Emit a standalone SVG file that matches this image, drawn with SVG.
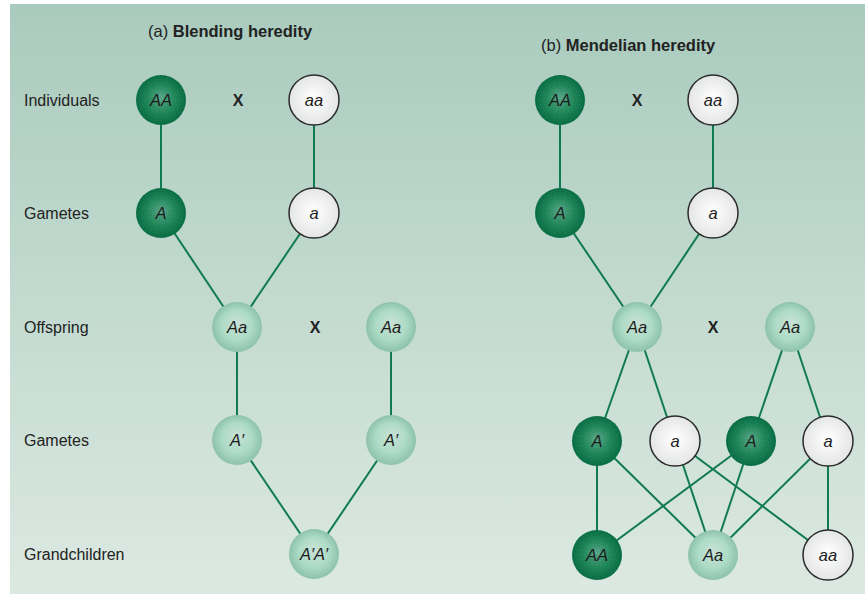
<svg xmlns="http://www.w3.org/2000/svg" width="865" height="594" viewBox="0 0 865 594">
  <defs>
    <linearGradient id="bg" x1="0" y1="0" x2="0" y2="1">
      <stop offset="0" stop-color="#a9cbbd"/>
      <stop offset="1" stop-color="#dce9e2"/>
    </linearGradient>
    <radialGradient id="dark" cx="50%" cy="50%" r="50%" fx="50%" fy="45%">
      <stop offset="0" stop-color="#5fb293"/>
      <stop offset="0.55" stop-color="#23905f"/>
      <stop offset="1" stop-color="#0a7449"/>
    </radialGradient>
    <radialGradient id="light" cx="50%" cy="50%" r="50%" fx="50%" fy="40%">
      <stop offset="0" stop-color="#c8e2d6"/>
      <stop offset="0.6" stop-color="#addbc6"/>
      <stop offset="1" stop-color="#8dc2ab"/>
    </radialGradient>
    <radialGradient id="white" cx="50%" cy="50%" r="50%" fx="50%" fy="45%">
      <stop offset="0" stop-color="#ffffff"/>
      <stop offset="1" stop-color="#e4e6e5"/>
    </radialGradient>
    <!-- fine concentric banding laid over the dark discs -->
    <radialGradient id="rings" cx="50%" cy="50%" r="50%" spreadMethod="repeat" gradientTransform="translate(0.5 0.5) scale(0.08) translate(-0.5 -0.5)">
      <stop offset="0" stop-color="#000" stop-opacity="0"/>
      <stop offset="1" stop-color="#000" stop-opacity="0.12"/>
    </radialGradient>
  </defs>
  <style>
    .lbl { font-family: "Liberation Sans", Arial, sans-serif; font-size: 16px; fill: #222; }
    .ttl { font-family: "Liberation Sans", Arial, sans-serif; font-size: 16.5px; fill: #222; }
    .ttl .b { font-weight: bold; }
    .x { font-family: "Liberation Sans", Arial, sans-serif; font-size: 16px; font-weight: bold; fill: #222; text-anchor: middle; }
    text.g { font-family: "Liberation Sans", Arial, sans-serif; font-size: 16.5px; font-style: italic; fill: #1c1c1c; text-anchor: middle; dominant-baseline: central; }
    .dk circle { fill: url(#dark); }
    .lt circle { fill: url(#light); }
    .wh circle { fill: url(#white); stroke: #2b2b2b; stroke-width: 1.5; }
    .dk circle.rg { fill: url(#rings); stroke: none; }
    #connectors line { stroke: #107a50; stroke-width: 2; }
  </style>

  <!-- backdrop -->
  <rect x="10" y="4" width="855" height="590" fill="url(#bg)"/>

  <!-- panel titles -->
  <text class="ttl" x="148" y="37">(a) <tspan class="b">Blending heredity</tspan></text>
  <text class="ttl" x="541" y="51">(b) <tspan class="b">Mendelian heredity</tspan></text>

  <!-- generation labels -->
  <text class="lbl" x="24" y="106">Individuals</text>
  <text class="lbl" x="24" y="219">Gametes</text>
  <text class="lbl" x="24" y="333">Offspring</text>
  <text class="lbl" x="24" y="446">Gametes</text>
  <text class="lbl" x="24" y="560">Grandchildren</text>

  <!-- crosses -->
  <text class="x" x="238" y="106">X</text>
  <text class="x" x="315" y="333">X</text>
  <text class="x" x="637" y="106">X</text>
  <text class="x" x="713" y="333">X</text>

  <g id="connectors">
    <!-- (a) blending -->
    <line x1="161" y1="100" x2="161" y2="213"/>
    <line x1="314" y1="100" x2="314" y2="213"/>
    <line x1="161" y1="213" x2="237" y2="327"/>
    <line x1="314" y1="213" x2="237" y2="327"/>
    <line x1="237" y1="327" x2="237" y2="440"/>
    <line x1="391" y1="327" x2="391" y2="440"/>
    <line x1="237" y1="440" x2="314" y2="554"/>
    <line x1="391" y1="440" x2="314" y2="554"/>
    <!-- (b) mendelian -->
    <line x1="560" y1="100" x2="560" y2="213"/>
    <line x1="713" y1="100" x2="713" y2="213"/>
    <line x1="560" y1="213" x2="637" y2="327"/>
    <line x1="713" y1="213" x2="637" y2="327"/>
    <line x1="637" y1="327" x2="597" y2="441"/>
    <line x1="637" y1="327" x2="675" y2="441"/>
    <line x1="790" y1="327" x2="751" y2="441"/>
    <line x1="790" y1="327" x2="828" y2="441"/>
    <line x1="597" y1="441" x2="597" y2="555"/>
    <line x1="597" y1="441" x2="713" y2="555"/>
    <line x1="675" y1="441" x2="713" y2="555"/>
    <line x1="675" y1="441" x2="828" y2="555"/>
    <line x1="751" y1="441" x2="597" y2="555"/>
    <line x1="751" y1="441" x2="713" y2="555"/>
    <line x1="828" y1="441" x2="713" y2="555"/>
    <line x1="828" y1="441" x2="828" y2="555"/>
  </g>

  <!-- (a) blending heredity nodes -->
  <g id="a-ind-AA" class="dk"><circle cx="161" cy="100" r="25"/><circle class="rg" cx="161" cy="100" r="25"/><text class="g" x="161" y="100">AA</text></g>
  <g id="a-ind-aa" class="wh"><circle cx="314" cy="100" r="25"/><text class="g" x="314" y="100">aa</text></g>
  <g id="a-gam-A" class="dk"><circle cx="161" cy="213" r="25"/><circle class="rg" cx="161" cy="213" r="25"/><text class="g" x="161" y="213">A</text></g>
  <g id="a-gam-a" class="wh"><circle cx="314" cy="213" r="25"/><text class="g" x="314" y="213">a</text></g>
  <g id="a-off-1" class="lt"><circle cx="237" cy="327" r="25"/><text class="g" x="237" y="327">Aa</text></g>
  <g id="a-off-2" class="lt"><circle cx="391" cy="327" r="25"/><text class="g" x="391" y="327">Aa</text></g>
  <g id="a-gam2-1" class="lt"><circle cx="237" cy="440" r="25"/><text class="g" x="237" y="440">A′</text></g>
  <g id="a-gam2-2" class="lt"><circle cx="391" cy="440" r="25"/><text class="g" x="391" y="440">A′</text></g>
  <g id="a-grand" class="lt"><circle cx="314" cy="554" r="25"/><text class="g" x="314" y="554">A′A′</text></g>

  <!-- (b) mendelian heredity nodes -->
  <g id="b-ind-AA" class="dk"><circle cx="560" cy="100" r="25"/><circle class="rg" cx="560" cy="100" r="25"/><text class="g" x="560" y="100">AA</text></g>
  <g id="b-ind-aa" class="wh"><circle cx="713" cy="100" r="25"/><text class="g" x="713" y="100">aa</text></g>
  <g id="b-gam-A" class="dk"><circle cx="560" cy="213" r="25"/><circle class="rg" cx="560" cy="213" r="25"/><text class="g" x="560" y="213">A</text></g>
  <g id="b-gam-a" class="wh"><circle cx="713" cy="213" r="25"/><text class="g" x="713" y="213">a</text></g>
  <g id="b-off-1" class="lt"><circle cx="637" cy="327" r="25"/><text class="g" x="637" y="327">Aa</text></g>
  <g id="b-off-2" class="lt"><circle cx="790" cy="327" r="25"/><text class="g" x="790" y="327">Aa</text></g>
  <g id="b-gam2-A1" class="dk"><circle cx="597" cy="441" r="25"/><circle class="rg" cx="597" cy="441" r="25"/><text class="g" x="597" y="441">A</text></g>
  <g id="b-gam2-a1" class="wh"><circle cx="675" cy="441" r="25"/><text class="g" x="675" y="441">a</text></g>
  <g id="b-gam2-A2" class="dk"><circle cx="751" cy="441" r="25"/><circle class="rg" cx="751" cy="441" r="25"/><text class="g" x="751" y="441">A</text></g>
  <g id="b-gam2-a2" class="wh"><circle cx="828" cy="441" r="25"/><text class="g" x="828" y="441">a</text></g>
  <g id="b-grand-AA" class="dk"><circle cx="597" cy="555" r="25"/><circle class="rg" cx="597" cy="555" r="25"/><text class="g" x="597" y="555">AA</text></g>
  <g id="b-grand-Aa" class="lt"><circle cx="713" cy="555" r="25"/><text class="g" x="713" y="555">Aa</text></g>
  <g id="b-grand-aa" class="wh"><circle cx="828" cy="555" r="25"/><text class="g" x="828" y="555">aa</text></g>
</svg>
